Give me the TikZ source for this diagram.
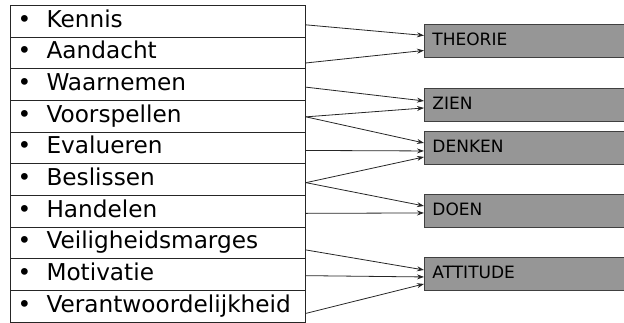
\documentclass[tikz,border=0pt]{standalone}
\usepackage{fontspec}
\setmainfont{DejaVu Sans}
\usetikzlibrary{calc,arrows.meta}
\begin{document}
\begin{tikzpicture}[x=1pt,y=-1pt,
  row/.style={draw=black!85, line width=1pt, anchor=north west,
    minimum width=295pt, minimum height=31.7pt, inner xsep=7pt,
    text width=281pt, text height=17pt, text depth=5pt, align=left,
    font=\fontsize{23.2}{26}\selectfont},
  cat/.style={draw=black!75, fill=black!41, line width=0.9pt, anchor=north west,
    minimum width=220pt, minimum height=33pt, inner xsep=8pt,
    text width=204pt, text height=13pt, text depth=3pt, align=left,
    font=\fontsize{17}{20}\selectfont},
  link/.style={draw=black!85, line width=0.8pt, -{Stealth[length=7pt,width=5pt]}}]
\useasboundingbox (0,0) rectangle (624,322);

% list of competences, one row each
\newcommand{\itm}[1]{\makebox[29pt][l]{•}#1}
\node[row] (kennis)   at (10,5)     {\itm{Kennis}};
\node[row] (aandacht) at (10,36.6)  {\itm{Aandacht}};
\node[row] (waarn)    at (10,68.3)  {\itm{Waarnemen}};
\node[row] (voorsp)   at (10,100)   {\itm{Voorspellen}};
\node[row] (eval)     at (10,131.6) {\itm{Evalueren}};
\node[row] (besl)     at (10,163.3) {\itm{Beslissen}};
\node[row] (hand)     at (10,195)   {\itm{Handelen}};
\node[row] (veil)     at (10,226.6) {\itm{Veiligheidsmarges}};
\node[row] (motiv)    at (10,258.3) {\itm{Motivatie}};
\node[row] (verantw)  at (10,290)   {\itm{Verantwoordelijkheid}};

% categories on the right
\node[cat] (theorie)  at (424,24)  {THEORIE};
\node[cat] (zien)     at (424,88)  {ZIEN};
\node[cat] (denken)   at (424,131) {DENKEN};
\node[cat] (doen)     at (424,194) {DOEN};
\node[cat] (attitude) at (424,257) {ATTITUDE};

% connections
\draw[link] ($(kennis.east)+(0,3.5)$)   -- ($(theorie.west)+(0,-5.5)$);
\draw[link] ($(aandacht.east)+(0,10)$)  -- ($(theorie.west)+(0,9.5)$);
\draw[link] ($(waarn.east)+(0,2.5)$)    -- ($(zien.west)+(0,-4)$);
\draw[link] ($(voorsp.east)+(0,0.5)$)   -- ($(zien.west)+(0,3)$);
\draw[link] ($(voorsp.east)+(0,0.5)$)   -- ($(denken.west)+(0,-5)$);
\draw[link] ($(eval.east)+(0,2.5)$)     -- ($(denken.west)+(0,3)$);
\draw[link] ($(besl.east)+(0,3)$)       -- ($(denken.west)+(0,9)$);
\draw[link] ($(besl.east)+(0,3)$)       -- ($(doen.west)+(0,-5)$);
\draw[link] ($(hand.east)+(0,2)$)       -- ($(doen.west)+(0,2)$);
\draw[link] ($(veil.east)+(0,7)$)       -- ($(attitude.west)+(0,-4)$);
\draw[link] ($(motiv.east)+(0,1)$)      -- ($(attitude.west)+(0,3)$);
\draw[link] ($(verantw.east)+(0,7)$)    -- ($(attitude.west)+(0,10)$);
\end{tikzpicture}
\end{document}
